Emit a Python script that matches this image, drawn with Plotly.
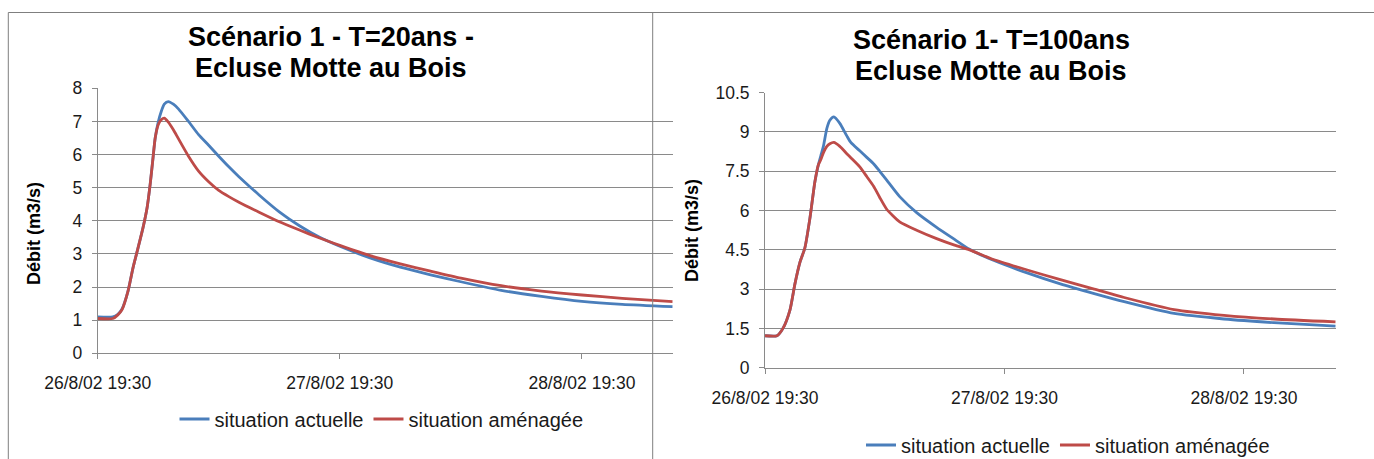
import pandas as pd
import plotly.graph_objects as go

W, H = 1374, 459
FONT = "Liberation Sans, Arial, sans-serif"
BLUE = "#4A7EBB"
RED = "#BE4B48"
GRID = "#8A8A8A"

START = pd.Timestamp("2002-08-26 19:30")
tick_hours = [0, 24, 48]
tick_labels = ["26/8/02 19:30", "27/8/02 19:30", "28/8/02 19:30"]
series_names = ["situation actuelle", "situation aménagée"]

# Scénario 1 - T=20ans (hours after 26/8/02 19:30, débit in m3/s)
hours_t20 = [0, 1.5, 2.0, 2.4, 3.0, 3.5, 4.0, 4.5, 4.9, 5.2, 5.45, 5.7, 6.0, 6.3,
             6.6, 7.0, 7.5, 8.0, 9.0, 10, 11, 12, 13, 14, 16, 18, 20, 22, 24,
             27, 30, 33, 36, 40, 44, 48, 52, 57]
actuelle_t20 = [1.1, 1.1, 1.18, 1.33, 1.87, 2.58, 3.18, 3.8, 4.4, 5.1, 5.8, 6.5,
                6.98, 7.3, 7.52, 7.6, 7.52, 7.38, 7.0, 6.6, 6.28, 5.95, 5.63, 5.33,
                4.78, 4.27, 3.85, 3.5, 3.23, 2.88, 2.6, 2.37, 2.16, 1.9, 1.72,
                1.57, 1.48, 1.41]
amenagee_t20 = [1.05, 1.05, 1.16, 1.31, 1.87, 2.58, 3.18, 3.8, 4.4, 5.1, 5.8, 6.5,
                6.9, 7.05, 7.1, 6.98, 6.75, 6.48, 5.95, 5.5, 5.18, 4.92, 4.73, 4.56,
                4.26, 3.97, 3.72, 3.48, 3.26, 2.95, 2.7, 2.48, 2.27, 2.04, 1.88,
                1.76, 1.66, 1.56]

# Scénario 1 - T=100ans
hours_t100 = [0, 1.2, 1.8, 2.5, 3.0, 3.5, 4.0, 4.5, 5.0, 5.35, 5.6, 5.85, 6.2, 6.5,
              6.9, 7.5, 8.2, 8.6, 9.5, 10.2, 10.9, 11.5, 12.2, 13.5, 15.2, 17.2,
              19.0, 20.5, 22.9, 26.2, 29.6, 33, 36, 41, 46, 51, 57.2]
actuelle_t100 = [1.22, 1.22, 1.5, 2.2, 3.2, 4.02, 4.58, 5.7, 7.1, 7.75, 8.1, 8.45,
                 9.14, 9.45, 9.58, 9.33, 8.85, 8.6, 8.28, 8.03, 7.78, 7.5, 7.16,
                 6.53, 5.92, 5.36, 4.9, 4.52, 4.1, 3.63, 3.2, 2.83, 2.52, 2.07, 1.86,
                 1.72, 1.59]
amenagee_t100 = [1.22, 1.22, 1.5, 2.2, 3.2, 4.02, 4.58, 5.7, 7.1, 7.75, 7.95, 8.2,
                 8.45, 8.55, 8.6, 8.45, 8.17, 8.02, 7.67, 7.3, 6.92, 6.5, 6.05,
                 5.57, 5.25, 4.93, 4.68, 4.5, 4.13, 3.74, 3.36, 3.0, 2.68, 2.22,
                 2.0, 1.86, 1.75]


def to_time(hours):
    return [START + pd.Timedelta(hours=h) for h in hours]


def px(x):
    return x / W


def py(y):
    return 1 - y / H


fig = go.Figure()

panels = [
    (hours_t20, actuelle_t20, amenagee_t20, "x", "y", "legend"),
    (hours_t100, actuelle_t100, amenagee_t100, "x2", "y2", "legend2"),
]
for hours, act, ame, xa, ya, leg in panels:
    t = to_time(hours)
    for name, vals, col in [(series_names[0], act, BLUE), (series_names[1], ame, RED)]:
        fig.add_trace(go.Scatter(
            x=t, y=vals, name=name, mode="lines", xaxis=xa, yaxis=ya, legend=leg,
            line=dict(color=col, width=2.8, shape="spline", smoothing=0.6),
            hoverinfo="skip",
        ))

tick_font = dict(family=FONT, size=17.5, color="#1a1a1a")


def xaxis_cfg(domain, end_hours, anchor):
    return dict(
        domain=domain, type="date", anchor=anchor, automargin=False,
        range=[START, START + pd.Timedelta(hours=end_hours)],
        tickmode="array", tickvals=to_time(tick_hours), ticktext=tick_labels,
        showgrid=False, zeroline=False, showline=True, linecolor=GRID, linewidth=1,
        ticks="outside", ticklen=5, tickcolor=GRID, tickfont=tick_font,
        ticklabelstandoff=9,
    )


def yaxis_cfg(domain, top, step, anchor):
    return dict(
        domain=domain, range=[0, top], dtick=step, tick0=0, anchor=anchor,
        automargin=False,
        showgrid=True, gridcolor=GRID, gridwidth=1, zeroline=False,
        showline=True, linecolor=GRID, linewidth=1,
        ticks="outside", ticklen=5, tickcolor=GRID, tickfont=tick_font,
        ticklabelstandoff=6,
    )


legend_font = dict(family=FONT, size=20, color="#1a1a1a")

fig.update_layout(
    width=W, height=H, margin=dict(l=0, r=0, t=0, b=0, autoexpand=False),
    paper_bgcolor="white", plot_bgcolor="white",
    font=dict(family=FONT, color="#1a1a1a"),
    xaxis=xaxis_cfg([px(97.7), px(672.7)], 57.0, "y"),
    yaxis=yaxis_cfg([py(353.3), py(88.3)], 8, 1, "x"),
    xaxis2=xaxis_cfg([px(765), px(1335.7)], 57.2, "y2"),
    yaxis2=yaxis_cfg([py(367.7), py(92.7)], 10.5, 1.5, "x2"),
    legend=dict(orientation="h", xref="container", yref="container",
                x=px(381.5), y=py(419), xanchor="center", yanchor="middle",
                font=legend_font, bgcolor="rgba(0,0,0,0)", itemwidth=30),
    legend2=dict(orientation="h", xref="container", yref="container",
                 x=px(1068), y=py(445), xanchor="center", yanchor="middle",
                 font=legend_font, bgcolor="rgba(0,0,0,0)", itemwidth=30),
    showlegend=True,
)

# chart frames
frame = dict(type="line", xref="paper", yref="paper",
             line=dict(color="#7F7F7F", width=1))
fig.add_shape(frame, x0=px(8.3), x1=1, y0=py(12.5), y1=py(12.5))
fig.add_shape(frame, x0=px(8.3), x1=px(8.3), y0=py(12.5), y1=0)
fig.add_shape(frame, x0=px(652.7), x1=px(652.7), y0=py(12.5), y1=0)

# titles
title_font = dict(family=FONT, size=27, color="#000000")
for text, cx, cy in [
    ("<b>Scénario 1 - T=20ans -</b>", 331, 37),
    ("<b>Ecluse Motte au Bois</b>", 331, 68),
    ("<b>Scénario 1- T=100ans</b>", 991, 40),
    ("<b>Ecluse Motte au Bois</b>", 991, 71),
]:
    fig.add_annotation(text=text, x=px(cx), y=py(cy), xref="paper", yref="paper",
                       xanchor="center", yanchor="middle", showarrow=False,
                       font=title_font)

# y-axis titles
for cx, cy in [(34, 234), (692, 231)]:
    fig.add_annotation(text="<b>Débit (m3/s)</b>", x=px(cx), y=py(cy),
                       xref="paper", yref="paper", xanchor="center",
                       yanchor="middle", textangle=-90, showarrow=False,
                       font=dict(family=FONT, size=18, color="#000000"))

fig.write_html("out.html", post_script="document.body.style.margin='0px';")
